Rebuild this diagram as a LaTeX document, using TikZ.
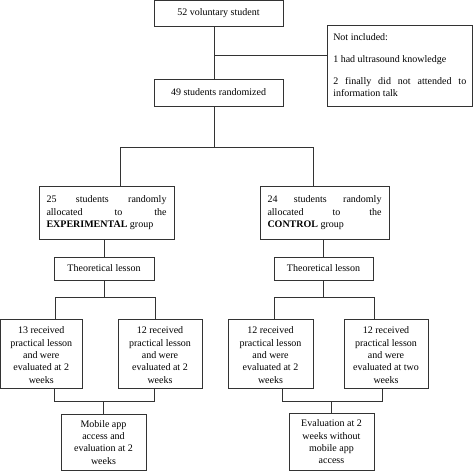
\documentclass[tikz,border=0pt]{standalone}
\usepackage{fontspec}
\setmainfont{Liberation Serif}
\begin{document}
\begin{tikzpicture}[x=1pt,y=-1pt,
  box/.style={draw=black!80, line width=0.75pt, rectangle, inner sep=0pt, font=\fontsize{10}{12.3}\selectfont},
  conn/.style={draw=black!80, line width=0.75pt}]
\useasboundingbox (0,0) rectangle (473,471);
% boxes: placed by centre with exact size
\newcommand{\mybox}[6]{% name, x1,y1,x2,y2, content
  \node[box, minimum width={#4-#2}, minimum height={#5-#3}] (#1) at ({(#2+#4)/2},{(#3+#5)/2}) {#6};}
\mybox{b52}{154}{0.5}{283}{26}{52 voluntary student}
\mybox{notinc}{327}{25}{472.5}{106}{\parbox[c][72pt][t]{133pt}{\vspace*{4pt}Not included:\\[9.5pt]1 had ultrasound knowledge\\[9.5pt]2\hfill finally\hfill did\hfill not\hfill attended\hfill to\\information talk}}
\mybox{b49}{154}{79}{283}{106}{49 students randomized}
\mybox{exp}{39}{186}{174}{239}{\parbox[c][44pt][t]{120pt}{\vspace*{5.5pt}25\hfill students\hfill randomly\\allocated\hfill to\hfill the\\\textbf{EXPERIMENTAL} group}}
\mybox{ctl}{260}{186}{389}{239}{\parbox[c][44pt][t]{114pt}{\vspace*{5.5pt}24\hfill students\hfill randomly\\allocated\hfill to\hfill the\\\textbf{CONTROL} group}}
\mybox{th1}{54}{257}{154}{280}{Theoretical lesson}
\mybox{th2}{274}{257}{373}{280}{Theoretical lesson}
\mybox{p1}{0.5}{319}{82}{388}{\parbox{80pt}{\centering\vspace*{3pt}13 received\\practical lesson\\and were\\evaluated at 2\\weeks}}
\mybox{p2}{118}{319}{202}{388}{\parbox{80pt}{\centering\vspace*{3pt}12 received\\practical lesson\\and were\\evaluated at 2\\weeks}}
\mybox{p3}{228}{319}{313}{388}{\parbox{80pt}{\centering\vspace*{3pt}12 received\\practical lesson\\and were\\evaluated at 2\\weeks}}
\mybox{p4}{344}{319}{428}{388}{\parbox{80pt}{\centering\vspace*{3pt}12 received\\practical lesson\\and were\\evaluated at two\\weeks}}
\mybox{mob}{61}{414}{146}{470.5}{\parbox{80pt}{\centering Mobile app\\access and\\evaluation at 2\\weeks}}
\mybox{ev}{289}{413}{374}{470.5}{\parbox{80pt}{\centering Evaluation at 2\\weeks without\\mobile app\\access}}
% junction coordinates
\coordinate (x214) at (214,0);
\coordinate (j1) at (214,55);
\coordinate (j2) at (214,147);
\coordinate (x120) at (120,0);
\coordinate (x313) at (313,0);
\coordinate (x55) at (55,0);
\coordinate (x155) at (155,0);
\coordinate (x274) at (274,0);
\coordinate (x374) at (374,0);
\coordinate (x54) at (54.5,0);
\coordinate (x154) at (154,0);
\coordinate (x282) at (282,0);
\coordinate (x382) at (382,0);
\coordinate (y147) at (0,147);
\coordinate (y297) at (0,297);
\coordinate (y401) at (0,401);
% connectors
\draw[conn] (b52.south -| x214) -- (b49.north -| x214);
\draw[conn] (j1) -- (j1 -| notinc.west);
\draw[conn] (b49.south -| x214) -- (j2);
\draw[conn] (exp.north -| x120) -- (x120 |- y147) -- (x313 |- y147) -- (ctl.north -| x313);
\draw[conn] (th1.north) -- (th1.north |- exp.south);
\draw[conn] (th2.north) -- (th2.north |- ctl.south);
\draw[conn] (th1.south) -- (th1.south |- y297);
\draw[conn] (p1.north -| x55) -- (x55 |- y297) -- (x155 |- y297) -- (p2.north -| x155);
\draw[conn] (th2.south) -- (th2.south |- y297);
\draw[conn] (p3.north -| x274) -- (x274 |- y297) -- (x374 |- y297) -- (p4.north -| x374);
\draw[conn] (p1.south -| x54) -- (x54 |- y401) -- (x154 |- y401) -- (p2.south -| x154);
\draw[conn] (mob.north) -- (mob.north |- y401);
\draw[conn] (p3.south -| x282) -- (x282 |- y401) -- (x382 |- y401) -- (p4.south -| x382);
\draw[conn] (ev.north) -- (ev.north |- y401);
\end{tikzpicture}
\end{document}
